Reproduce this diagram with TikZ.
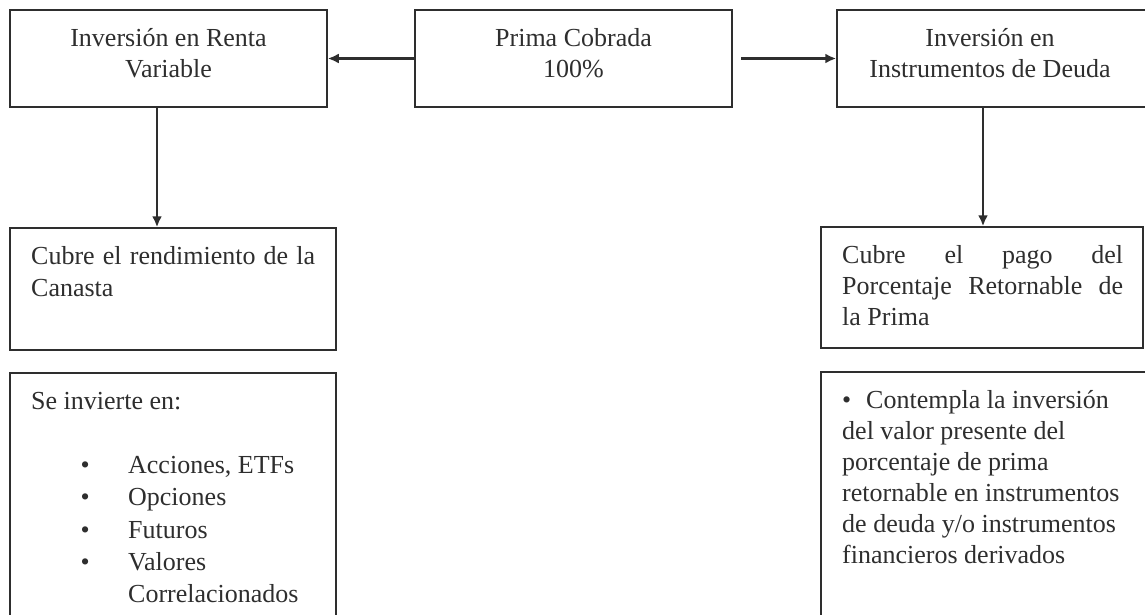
\documentclass[tikz,border=0pt]{standalone}
\usepackage{fontspec}
\setmainfont{Liberation Serif}
\usetikzlibrary{arrows.meta}
\definecolor{ink}{HTML}{2E2E2E}
\begin{document}
\begin{tikzpicture}[x=1pt,y=-1pt,
  box/.style={draw=ink, line width=1.5pt, inner sep=0pt, rectangle},
  conn/.style={draw=ink, line width=2.2pt, -{Latex[length=11pt,width=10pt]}},
  txt/.style={text=ink, inner sep=0pt}]
\useasboundingbox (0,0) rectangle (1145,614);
\clip (0,0) rectangle (1145,614);
% boxes
\node[box, minimum width=317pt, minimum height=97pt] (A) at (168.5,58.5) {};
\node[box, minimum width=317pt, minimum height=97pt] (P) at (573.5,58.5) {};
\node[box, minimum width=310pt, minimum height=97pt] (D) at (992,58.5) {};
\node[box, minimum width=326pt, minimum height=122pt] (C1) at (173,289) {};
\node[box, minimum width=326pt, minimum height=267pt] (B1) at (173,506.5) {};
\node[box, minimum width=322pt, minimum height=121pt] (C2) at (982,287.5) {};
\node[box, minimum width=339pt, minimum height=268pt] (B2) at (990.5,506) {};
% texts
\node[txt, anchor=base, font=\fontsize{26}{31}\selectfont] (tA) at (168.5,46)
  {\parbox[t]{300pt}{\centering Inversión en Renta\\ Variable}};
\node[txt, anchor=base, font=\fontsize{26}{31}\selectfont] (tP) at (573.5,46)
  {\parbox[t]{300pt}{\centering Prima Cobrada\\ 100\%}};
\node[txt, anchor=base, font=\fontsize{26}{31}\selectfont] (tD) at (990,46)
  {\parbox[t]{300pt}{\centering Inversión en\\ Instrumentos de Deuda}};
\node[txt, anchor=base west, font=\fontsize{26}{32}\selectfont] (tC1) at (31,264)
  {\parbox[t]{284pt}{\makebox[284pt][s]{Cubre el rendimiento de la}\\ Canasta}};
\node[txt, anchor=base west, font=\fontsize{26}{32.3}\selectfont] (tB1) at (31,409)
  {\parbox[t]{300pt}{Se invierte en:\\ \mbox{}\\
   \hspace*{54pt}\makebox[0pt][c]{•}\hspace*{43pt}Acciones, ETFs\\
   \hspace*{54pt}\makebox[0pt][c]{•}\hspace*{43pt}Opciones\\
   \hspace*{54pt}\makebox[0pt][c]{•}\hspace*{43pt}Futuros\\
   \hspace*{54pt}\makebox[0pt][c]{•}\hspace*{43pt}Valores\\
   \hspace*{97pt}Correlacionados}};
\node[txt, anchor=base west, font=\fontsize{26}{31}\selectfont] (tC2) at (842,263)
  {\parbox[t]{281pt}{\makebox[281pt][s]{Cubre el pago del}\\ \makebox[281pt][s]{Porcentaje Retornable de}\\ la Prima}};
\node[txt, anchor=base west, font=\fontsize{26}{31}\selectfont] (tB2) at (842,408)
  {\parbox[t]{300pt}{\raggedright \makebox[24pt][l]{•}Contempla la inversión\\ del valor presente del\\ porcentaje de prima\\ retornable en instrumentos\\ de deuda y/o instrumentos\\ financieros derivados}};
% connectors
\coordinate (rs) at (741,58.5);
\coordinate (lx) at (157,0);
\coordinate (rx) at (983,0);
\draw[conn] (P.west) -- (A.east);
\draw[conn] (rs) -- (D.west);
\draw[conn] (A.south -| lx) -- (C1.north -| lx);
\draw[conn] (D.south -| rx) -- (C2.north -| rx);
\end{tikzpicture}
\end{document}
